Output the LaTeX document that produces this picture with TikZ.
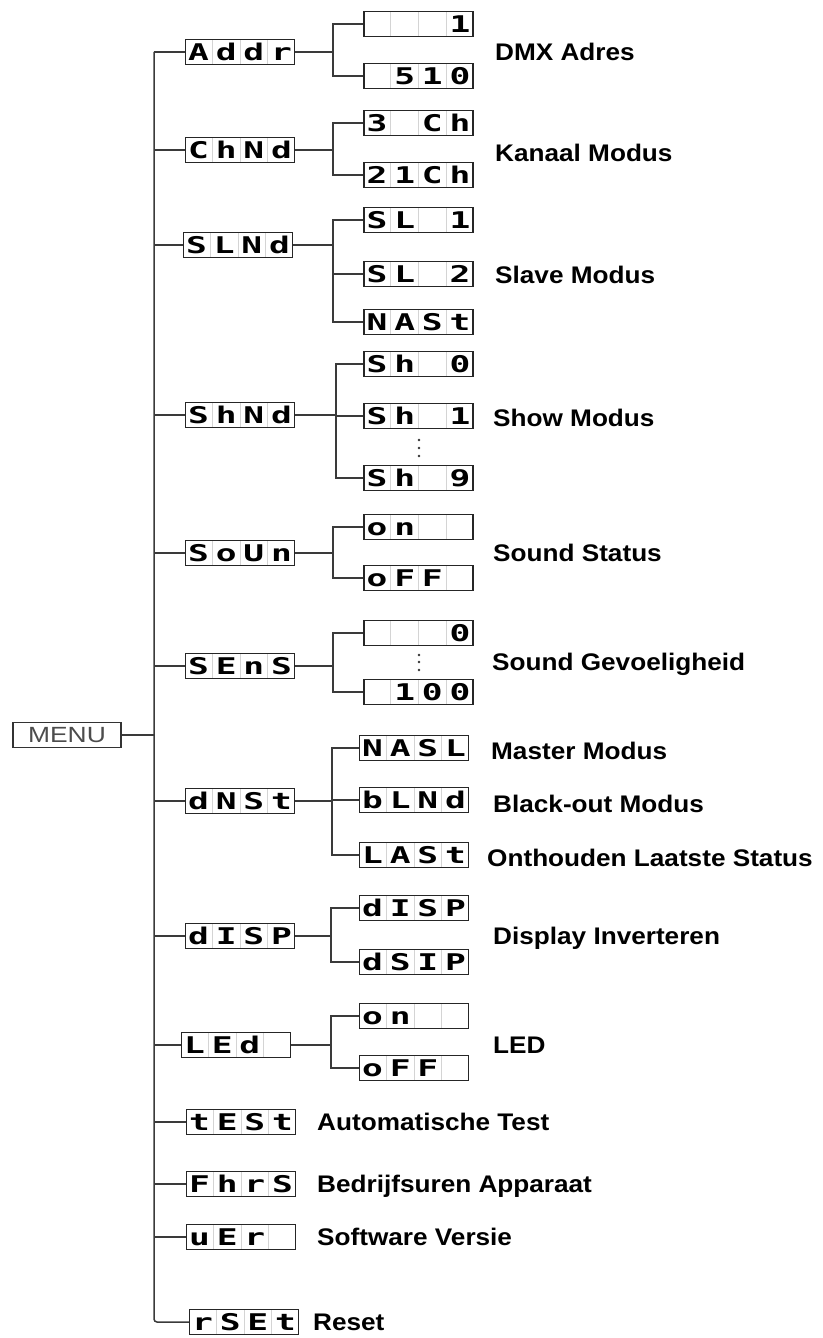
\documentclass[tikz,border=0pt]{standalone}
\usepackage{fontspec}
\setmainfont{Liberation Sans}
\newfontfamily\lblfont[FakeStretch=1.09]{Liberation Sans}
\newfontfamily\menufont[FakeStretch=1.2]{Liberation Sans}
\newfontfamily\segfont{DejaVu Sans Mono Bold}
\usepackage{tikz}
\usetikzlibrary{calc}
\definecolor{lineink}{HTML}{3A3A3A}
\definecolor{cellgray}{HTML}{D4D4D4}

% one four-cell display: name, centre, four characters
\newcommand\segdisp[6]{%
  \node[segbox] (#1) at (#2) {};
  \foreach \k in {1,2,3}
    \draw[segcell] ($(#1.south west)!\k*0.25!(#1.south east)$) -- ($(#1.north west)!\k*0.25!(#1.north east)$);
  \node[segchar] (#1-a) at ($(#1.west)!0.125!(#1.east)$) {\scalebox{1.5}[1]{#3}};
  \node[segchar] (#1-b) at ($(#1.west)!0.375!(#1.east)$) {\scalebox{1.5}[1]{#4}};
  \node[segchar] (#1-c) at ($(#1.west)!0.625!(#1.east)$) {\scalebox{1.5}[1]{#5}};
  \node[segchar] (#1-d) at ($(#1.west)!0.875!(#1.east)$) {\scalebox{1.5}[1]{#6}};
}

\begin{document}
\begin{tikzpicture}[x=1pt,y=-1pt,
  segbox/.style={draw=black!85,line width=1.4pt,minimum width=109pt,minimum height=25pt,inner sep=0pt},
  segcell/.style={cellgray,line width=1pt,shorten >=1.5pt,shorten <=1.5pt},
  segchar/.style={font=\segfont\fontsize{23}{25}\selectfont,text height=16.5pt,text depth=0pt,inner sep=0pt},
  lbl/.style={font=\lblfont\bfseries\fontsize{24}{28}\selectfont,text height=17pt,text depth=0pt,inner sep=0pt,anchor=west},
  conn/.style={lineink,line width=1.5pt}]
  \useasboundingbox (0,0) rectangle (822,1338);

  \node[draw=black!80,line width=1.3pt,minimum width=108pt,minimum height=25pt,inner sep=0pt,
        text=black!70,font=\menufont\fontsize{22}{24}\selectfont] (menu) at (67,735) {MENU};

  % first level
  \segdisp{addr}{240,52}{A}{d}{d}{r}
  \segdisp{chnd}{240,150}{C}{h}{N}{d}
  \segdisp{slnd}{238,245}{S}{L}{N}{d}
  \segdisp{shnd}{240,415}{S}{h}{N}{d}
  \segdisp{soun}{240,553}{S}{o}{U}{n}
  \segdisp{sens}{240,666}{S}{E}{n}{S}
  \segdisp{dnst}{240,801}{d}{N}{S}{t}
  \segdisp{disp}{240,936}{d}{I}{S}{P}
  \segdisp{led}{236,1045}{L}{E}{d}{}
  \segdisp{test}{241,1122}{t}{E}{S}{t}
  \segdisp{fhrs}{241,1184}{F}{h}{r}{S}
  \segdisp{ver}{241,1237}{u}{E}{r}{}
  \segdisp{rset}{244,1322}{r}{S}{E}{t}

  % second level
  \segdisp{a1}{418.5,24}{}{}{}{1}
  \segdisp{a2}{418.5,76}{}{5}{1}{0}
  \segdisp{c1}{418.5,123}{3}{}{C}{h}
  \segdisp{c2}{418.5,175}{2}{1}{C}{h}
  \segdisp{s1}{418.5,220}{S}{L}{}{1}
  \segdisp{s2}{418.5,274}{S}{L}{}{2}
  \segdisp{s3}{418.5,322}{N}{A}{S}{t}
  \segdisp{h0}{418.5,364}{S}{h}{}{0}
  \segdisp{h1}{418.5,416}{S}{h}{}{1}
  \segdisp{h9}{418.5,478}{S}{h}{}{9}
  \segdisp{o1}{418.5,527}{o}{n}{}{}
  \segdisp{o2}{418.5,578}{o}{F}{F}{}
  \segdisp{e1}{418.5,633}{}{}{}{0}
  \segdisp{e2}{418.5,692}{}{1}{0}{0}
  \segdisp{m1}{414,748}{N}{A}{S}{L}
  \segdisp{m2}{414,800}{b}{L}{N}{d}
  \segdisp{m3}{414,855}{L}{A}{S}{t}
  \segdisp{d1}{414,908}{d}{I}{S}{P}
  \segdisp{d2}{414,962}{d}{S}{I}{P}
  \segdisp{l1}{414,1016}{o}{n}{}{}
  \segdisp{l2}{414,1068}{o}{F}{F}{}

  \foreach \d in {440,448,456} \fill[black!80] (419,\d) circle (1.3);
  \foreach \d in {655,662,670} \fill[black!80] (419,\d) circle (1.3);

  % trunk
  \coordinate (trunk) at (154,0);
  \draw[conn] (menu.east) -- (menu.east -| trunk);
  \draw[conn,rounded corners=3] (addr.west -| trunk) -- (rset.west -| trunk) -- (rset.west);
  \foreach \m in {addr,chnd,slnd,shnd,soun,sens,dnst,disp,led,test,fhrs,ver}
    \draw[conn] (\m.west -| trunk) -- (\m.west);

  % branches
  \foreach \p/\a/\b/\jx in {addr/a1/a2/333,chnd/c1/c2/333,slnd/s1/s3/333,shnd/h0/h9/336,
                            soun/o1/o2/333,sens/e1/e2/333,dnst/m1/m3/332,disp/d1/d2/331,led/l1/l2/331} {
    \coordinate (j) at (\jx,0);
    \draw[conn] (\p.east) -- (j |- \p.east);
    \draw[conn] (\a.west) -- (j |- \a.west) -- (j |- \b.west) -- (\b.west);
  }
  \foreach \q/\jx in {s2/333,h1/336,m2/332} {
    \coordinate (j) at (\jx,0);
    \draw[conn] (j |- \q.west) -- (\q.west);
  }

  % labels
  \node[lbl] (tdmx) at (495,52) {DMX Adres};
  \node[lbl] (tkan) at (495,153) {Kanaal Modus};
  \node[lbl] (tslv) at (495,275) {Slave Modus};
  \node[lbl] (tshw) at (493,418) {Show Modus};
  \node[lbl] (tsnd) at (493,553) {Sound Status};
  \node[lbl] (tgev) at (492,662) {Sound Gevoeligheid};
  \node[lbl] (tmst) at (491,751) {Master Modus};
  \node[lbl] (tblk) at (493,804) {Black-out Modus};
  \node[lbl] (tont) at (487,858) {Onthouden Laatste Status};
  \node[lbl] (tdsp) at (493,936) {Display Inverteren};
  \node[lbl] (tled) at (493,1045) {LED};
  \node[lbl] (ttst) at (317,1122) {Automatische Test};
  \node[lbl] (tbdr) at (317,1184) {Bedrijfsuren Apparaat};
  \node[lbl] (tsft) at (317,1237) {Software Versie};
  \node[lbl] (trst) at (313,1322) {Reset};
\end{tikzpicture}
\end{document}
